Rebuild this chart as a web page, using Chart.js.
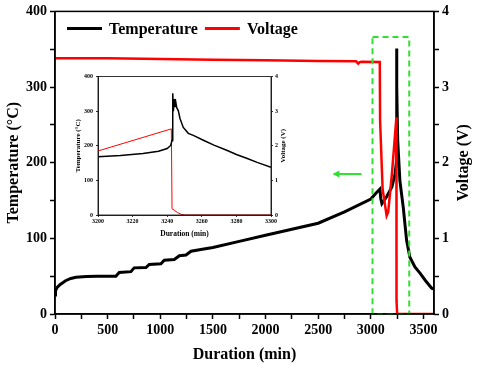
<!DOCTYPE html>
<html>
<head>
<meta charset="utf-8">
<script src="https://cdn.jsdelivr.net/npm/chart.js@4.4.1/dist/chart.umd.min.js"></script>
<style>
  body { margin: 0; background: #fff; }
  #wrap { position: relative; width: 477px; height: 365px; }
  #main { position: absolute; left: 0; top: 0; }
  #inset { position: absolute; left: 70px; top: 70px; }
</style>
</head>
<body>
<div id="wrap">
  <canvas id="main" width="477" height="365"></canvas>
  <canvas id="inset" width="220" height="170"></canvas>
</div>
<script>
'use strict';

// main plot - temperature (black)
let durTemp = [0, 5, 20, 50, 100, 150, 200, 300, 400, 578, 610, 721, 752, 864, 895, 1006, 1038, 1133, 1181, 1244, 1292, 1400, 1500, 1750, 2000, 2250, 2500, 2750, 3000, 3050, 3086, 3095, 3105, 3150, 3200, 3230, 3242, 3244, 3248, 3255, 3276, 3308, 3340, 3371, 3420, 3467, 3520, 3578, 3600];
let tempMain = [25, 31, 35, 39, 44, 47, 48.5, 49.5, 50, 50, 55, 56, 61, 61.5, 65.5, 66.5, 71, 72, 77, 78, 83, 85.5, 88, 96, 104, 112, 120, 135, 152, 160, 165, 152, 146, 155, 168, 185, 200, 351, 300, 230, 176, 141, 97, 75, 62, 54, 44, 34, 33];

// main plot - voltage (red)
let durVolt = [0, 500, 1000, 1500, 2000, 2500, 2860, 2880, 2895, 2910, 3085, 3088, 3112, 3150, 3165, 3200, 3243, 3244, 3250, 3600];
let voltMain = [3.38, 3.38, 3.37, 3.36, 3.355, 3.345, 3.34, 3.31, 3.33, 3.335, 3.33, 2.55, 1.65, 1.3, 1.35, 1.85, 2.6, 0.18, 0, 0];

// inset (3200-3300 min)
let insetDurT = [3200, 3213, 3226, 3235, 3240, 3242, 3242.8, 3243.2, 3243.6, 3244, 3244.5, 3245, 3245.5, 3246.4, 3247.4, 3249.3, 3252.2, 3255.1, 3260.9, 3267, 3274.4, 3280, 3285.9, 3292, 3300];
let insetTemp = [168, 172, 177.5, 184, 192, 201, 215, 352, 300, 335, 312, 325, 310, 302, 279, 253, 236, 230, 216, 202, 187, 175, 164, 152, 138];
let insetDurV = [3200, 3242.4, 3242.8, 3244, 3246, 3248, 3250, 3300];
let insetVolt = [1.85, 2.49, 0.18, 0.14, 0.07, 0.02, 0, 0];

// green marks
let boxMinutes = [3016, 3365];
let boxTemps = [0, 366];
let arrowMinutes = [2911, 2635];
let arrowTemp = 185;

const serif = 'Liberation Serif';

function toPoints(xs, ys) {
  let pts = [];
  for (let i = 0; i < xs.length; i++) {
    pts.push({ x: xs[i], y: ys[i] });
  }
  return pts;
}

// box round the plot area
const frame = {
  id: 'frame',
  afterDraw(chart, args, opts) {
    let a = chart.chartArea;
    let ctx = chart.ctx;
    ctx.save();
    ctx.strokeStyle = '#000';
    ctx.lineWidth = opts.width || 1.5;
    ctx.strokeRect(a.left, a.top, a.right - a.left, a.bottom - a.top);
    ctx.restore();
  }
};

// right axis title, reading bottom to top like the left one
const rightTitle = {
  id: 'rightTitle',
  afterDraw(chart, args, opts) {
    let a = chart.chartArea;
    let ctx = chart.ctx;
    ctx.save();
    ctx.translate(opts.x, (a.top + a.bottom) / 2);
    ctx.rotate(-Math.PI / 2);
    ctx.font = opts.font;
    ctx.fillStyle = '#000';
    ctx.textAlign = 'center';
    ctx.textBaseline = 'middle';
    ctx.fillText(opts.text, 0, 0);
    ctx.restore();
  }
};

// legend inside the plot, in one row
const rowLegend = {
  id: 'rowLegend',
  afterDraw(chart, args, opts) {
    let a = chart.chartArea;
    let ctx = chart.ctx;
    let x = a.left + opts.left;
    let y = a.top + opts.top;
    ctx.save();
    ctx.font = opts.font;
    ctx.textBaseline = 'middle';
    ctx.fillStyle = '#000';
    chart.data.datasets.forEach(ds => {
      ctx.strokeStyle = ds.borderColor;
      ctx.lineWidth = 3;
      ctx.beginPath();
      ctx.moveTo(x, y);
      ctx.lineTo(x + opts.lineLen, y);
      ctx.stroke();
      x += opts.lineLen + 7;
      ctx.fillText(ds.label, x, y + 1);
      x += ctx.measureText(ds.label).width + 7;
    });
    ctx.restore();
  }
};

const greenMarks = {
  id: 'greenMarks',
  afterDatasetsDraw(chart) {
    let x = chart.scales.x;
    let y = chart.scales.y;
    let ctx = chart.ctx;
    ctx.save();
    ctx.strokeStyle = '#33dd33';
    ctx.fillStyle = '#33dd33';
    ctx.lineWidth = 2;
    ctx.setLineDash([6, 4]);
    let x0 = x.getPixelForValue(boxMinutes[0]);
    let x1 = x.getPixelForValue(boxMinutes[1]);
    let y0 = y.getPixelForValue(boxTemps[1]);
    let y1 = y.getPixelForValue(boxTemps[0]);
    ctx.strokeRect(x0, y0, x1 - x0, y1 - y0);
    ctx.setLineDash([]);
    let ax0 = x.getPixelForValue(arrowMinutes[0]);
    let ax1 = x.getPixelForValue(arrowMinutes[1]);
    let ay = y.getPixelForValue(arrowTemp);
    ctx.beginPath();
    ctx.moveTo(ax0, ay);
    ctx.lineTo(ax1 + 6, ay);
    ctx.stroke();
    ctx.beginPath();
    ctx.moveTo(ax1, ay);
    ctx.lineTo(ax1 + 7, ay - 3.5);
    ctx.lineTo(ax1 + 7, ay + 3.5);
    ctx.closePath();
    ctx.fill();
    ctx.restore();
  }
};

function fixWidth(w) {
  return function (scale) { scale.width = w; };
}
function fixHeight(h) {
  return function (scale) { scale.height = h; };
}

const mainChart = new Chart(document.getElementById('main'), {
  type: 'line',
  data: {
    datasets: [{
      label: 'Temperature',
      data: toPoints(durTemp, tempMain),
      borderColor: '#000000',
      backgroundColor: '#000000',
      borderWidth: 3,
      yAxisID: 'y',
      order: 2
    }, {
      label: 'Voltage',
      data: toPoints(durVolt, voltMain),
      borderColor: '#ff0000',
      backgroundColor: '#ff0000',
      borderWidth: 2.5,
      yAxisID: 'y1',
      order: 1
    }]
  },
  options: {
    responsive: false,
    animation: false,
    events: [],
    elements: { point: { radius: 0 }, line: { tension: 0 } },
    layout: { padding: { top: 9, left: 0, right: 0, bottom: 0 } },
    plugins: {
      tooltip: { enabled: false },
      legend: { display: false },
      frame: { width: 1.5 },
      rowLegend: { left: 12, top: 17, lineLen: 35, font: 'bold 16px "Liberation Serif"' },
      rightTitle: { x: 464, text: 'Voltage (V)', font: 'bold 16px "Liberation Serif"' }
    },
    scales: {
      x: {
        type: 'linear',
        min: 0,
        max: 3600,
        afterFit: fixHeight(51),
        border: { color: '#000', width: 1.5 },
        grid: { drawOnChartArea: false, tickLength: 5, tickColor: '#000', tickWidth: 1.5 },
        ticks: {
          stepSize: 250,
          includeBounds: false,
          autoSkip: false,
          maxRotation: 0,
          padding: 3,
          color: '#000',
          font: { family: serif, size: 14, weight: 'bold' },
          callback: v => (v % 500 === 0 ? String(v) : '')
        },
        title: {
          display: true,
          text: 'Duration (min)',
          color: '#000',
          padding: { top: 0, bottom: 1 },
          font: { family: serif, size: 16, weight: 'bold' }
        }
      },
      y: {
        position: 'left',
        min: 0,
        max: 400,
        afterFit: fixWidth(55),
        border: { color: '#000', width: 1.5 },
        grid: { drawOnChartArea: false, tickLength: 5, tickColor: '#000', tickWidth: 1.5 },
        ticks: {
          stepSize: 50,
          autoSkip: false,
          padding: 3,
          color: '#000',
          font: { family: serif, size: 14, weight: 'bold' },
          callback: v => (v % 100 === 0 ? String(v) : '')
        },
        title: {
          display: true,
          text: 'Temperature (°C)',
          color: '#000',
          padding: { top: 4, bottom: 0 },
          font: { family: serif, size: 16, weight: 'bold' }
        }
      },
      y1: {
        position: 'right',
        min: 0,
        max: 4,
        afterFit: fixWidth(43),
        border: { color: '#000', width: 1.5 },
        grid: { drawOnChartArea: false, tickLength: 5, tickColor: '#000', tickWidth: 1.5 },
        ticks: {
          stepSize: 0.5,
          autoSkip: false,
          padding: 3,
          color: '#000',
          font: { family: serif, size: 14, weight: 'bold' },
          callback: v => (Number.isInteger(v) ? String(v) : '')
        }
      }
    }
  },
  plugins: [frame, greenMarks, rowLegend, rightTitle]
});

const insetChart = new Chart(document.getElementById('inset'), {
  type: 'line',
  data: {
    datasets: [{
      label: 'Temperature',
      data: toPoints(insetDurT, insetTemp),
      borderColor: '#000000',
      borderWidth: 1.5,
      yAxisID: 'y',
      order: 1
    }, {
      label: 'Voltage',
      data: toPoints(insetDurV, insetVolt),
      borderColor: '#ff0000',
      borderWidth: 1,
      yAxisID: 'y1',
      order: 2
    }]
  },
  options: {
    responsive: false,
    animation: false,
    events: [],
    elements: { point: { radius: 0 }, line: { tension: 0 } },
    layout: { padding: { top: 6, left: 0, right: 0, bottom: 0 } },
    plugins: {
      legend: { display: false },
      tooltip: { enabled: false },
      frame: { width: 0.8 },
      rightTitle: { x: 213, text: 'Voltage (V)', font: 'bold 7px "Liberation Serif"' }
    },
    scales: {
      x: {
        type: 'linear',
        min: 3200,
        max: 3300,
        afterFit: fixHeight(25),
        border: { color: '#000', width: 0.8 },
        grid: { drawOnChartArea: false, tickLength: 2, tickColor: '#000', tickWidth: 0.8 },
        ticks: {
          stepSize: 20,
          autoSkip: false,
          maxRotation: 0,
          padding: 1,
          color: '#000',
          font: { family: serif, size: 6, weight: 'bold' },
          callback: v => String(v)
        },
        title: {
          display: true,
          text: 'Duration (min)',
          color: '#000',
          padding: { top: 0, bottom: 1.5 },
          font: { family: serif, size: 7.5, weight: 'bold' }
        }
      },
      y: {
        position: 'left',
        min: 0,
        max: 400,
        afterFit: fixWidth(28),
        border: { color: '#000', width: 0.8 },
        grid: { drawOnChartArea: false, tickLength: 2, tickColor: '#000', tickWidth: 0.8 },
        ticks: {
          stepSize: 100,
          padding: 3,
          color: '#000',
          font: { family: serif, size: 6, weight: 'bold' },
          callback: v => String(v)
        },
        title: {
          display: true,
          text: 'Temperature (°C)',
          color: '#000',
          padding: { top: 4, bottom: 0 },
          font: { family: serif, size: 7, weight: 'bold' }
        }
      },
      y1: {
        position: 'right',
        min: 0,
        max: 4,
        afterFit: fixWidth(19),
        border: { color: '#000', width: 0.8 },
        grid: { drawOnChartArea: false, tickLength: 2, tickColor: '#000', tickWidth: 0.8 },
        ticks: {
          stepSize: 1,
          padding: 2,
          color: '#000',
          font: { family: serif, size: 6, weight: 'bold' },
          callback: v => String(v)
        }
      }
    }
  },
  plugins: [frame, rightTitle]
});
</script>
</body>
</html>
